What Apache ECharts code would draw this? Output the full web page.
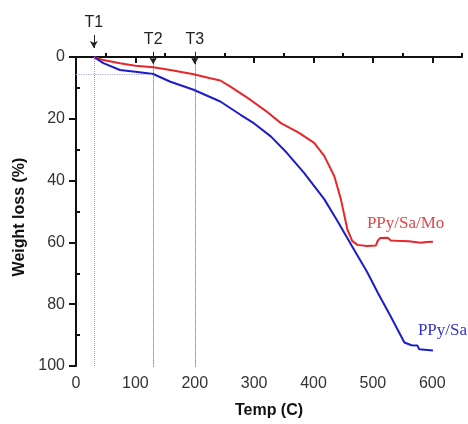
<!DOCTYPE html>
<html>
<head>
<meta charset="utf-8">
<script src="https://cdn.jsdelivr.net/npm/echarts@6/dist/echarts.min.js"></script>
<style>
  html, body { margin: 0; background: #fff; }
  #chart { width: 468px; height: 424px; }
</style>
</head>
<body>
<div id="chart"></div>
<script>
// ----- data -----
const tempSa   = [30, 46, 74, 100, 130, 159, 198, 243, 277, 300, 328, 355, 384, 418, 440, 468, 490, 508, 530, 553, 565, 575, 578, 581, 601];
const lossSa   = [0, 2.0, 4.2, 4.8, 5.5, 8.0, 10.6, 14.4, 18.7, 21.5, 25.7, 31, 37.5, 46, 53, 62.3, 69.5, 76.2, 84, 92.4, 93.3, 93.4, 94.6, 95, 95];
const tempSaMo = [30, 46, 74, 100, 130, 159, 198, 226, 243, 260, 294, 320, 345, 375, 401, 418, 435, 446, 457, 465, 474, 490, 505, 508, 512, 525, 530, 540, 560, 581, 590, 601];
const lossSaMo = [0, 1.0, 2.0, 2.8, 3.3, 4.2, 5.6, 6.9, 7.6, 9.6, 13.9, 17.5, 21.4, 24.5, 27.8, 32, 38.6, 46, 55.8, 59.5, 60.8, 61.2, 61, 59.5, 58.6, 58.5, 59.4, 59.5, 59.6, 60.1, 59.9, 59.8];

const markNames = ['T1', 'T2', 'T3'];
const markTemps = [30, 130, 200];

const xMajorTicks = [0, 100, 200, 300, 400, 500, 600];
const xMinorTicks = [50, 150, 250, 350, 450, 550, 650];
const yMajorTicks = [0, 20, 40, 60, 80, 100];
const yMinorTicks = [10, 30, 50, 70, 90];

const RED = '#e8262a';
const BLUE = '#1c1ccc';
const TEXT = '#333';

// the plot is 310px tall for 0..100; the overlay grid reaches the top of the page
const Y_TOP = -57 / 3.1;

function toPairs(xs, ys) {
  return xs.map((x, i) => [x, ys[i]]);
}

// vertical guide lines, arrows and their labels
function markerLines() {
  const out = [];
  markTemps.forEach((t, i) => {
    const first = i === 0;
    out.push([
      { coord: [t, first ? 0 : 1.5], lineStyle: { color: first ? '#98a0c0' : '#555', type: 'dotted', width: 1 } },
      { coord: [t, 100] }
    ]);
    out.push([
      {
        coord: [t, first ? -7.1 : -1.7],
        symbol: 'none',
        lineStyle: { color: '#222', type: 'solid', width: 1 },
        label: { show: true, position: 'start', formatter: markNames[i], distance: 4,
                 color: '#222', fontSize: 16, fontFamily: 'Liberation Sans' }
      },
      { coord: [t, first ? -2.9 : 2.3], symbol: 'arrow', symbolSize: [6, 7] }
    ]);
  });
  // horizontal dotted reference
  out.push([
    { coord: [0, 5.5], lineStyle: { color: '#a4a8e6', type: 'dotted', width: 1.2 } },
    { coord: [128, 5.5] }
  ]);
  return out;
}

const chart = echarts.init(document.getElementById('chart'), null, { renderer: 'canvas' });

chart.setOption({
  backgroundColor: '#fff',
  animation: false,
  grid: [
    { left: 76, right: 6, top: 57, bottom: 57 },
    { left: 76, right: 6, top: 0, bottom: 57 }
  ],
  xAxis: [
    {
      type: 'value', min: 0, max: 650, position: 'bottom',
      name: 'Temp (C)', nameLocation: 'middle', nameGap: 37,
      nameTextStyle: { fontFamily: 'Liberation Sans', fontWeight: 'bold', fontSize: 16, color: '#111' },
      axisLine: { show: true, lineStyle: { color: '#111', width: 2 } },
      axisTick: { show: true, inside: false, length: 6, customValues: xMajorTicks, lineStyle: { color: '#111', width: 2 } },
      axisLabel: { customValues: xMajorTicks, margin: 10, color: TEXT, fontSize: 16, fontFamily: 'Liberation Sans' },
      splitLine: { show: false }
    },
    {
      type: 'value', min: 0, max: 650, position: 'bottom',
      axisLine: { show: false },
      axisTick: { show: true, inside: true, length: 4, customValues: xMinorTicks, lineStyle: { color: '#111', width: 2 } },
      axisLabel: { show: false },
      splitLine: { show: false }
    },
    { type: 'value', gridIndex: 1, min: 0, max: 650, show: false }
  ],
  yAxis: [
    {
      type: 'value', min: 0, max: 100, inverse: true, position: 'left',
      name: 'Weight loss (%)', nameLocation: 'middle', nameGap: 41,
      nameTextStyle: { fontFamily: 'Liberation Sans', fontWeight: 'bold', fontSize: 16, color: '#111', padding: [0, 11, 0, 0] },
      axisLine: { show: true, lineStyle: { color: '#111', width: 2 } },
      axisTick: { show: true, inside: false, length: 7, customValues: yMajorTicks, lineStyle: { color: '#111', width: 2 } },
      axisLabel: { customValues: yMajorTicks, margin: 11, color: TEXT, fontSize: 16, fontFamily: 'Liberation Sans' },
      splitLine: { show: false }
    },
    {
      type: 'value', min: 0, max: 100, inverse: true, position: 'left',
      axisLine: { show: false },
      axisTick: { show: true, inside: true, length: 4, customValues: yMinorTicks, lineStyle: { color: '#111', width: 2 } },
      axisLabel: { show: false },
      splitLine: { show: false }
    },
    { type: 'value', gridIndex: 1, min: Y_TOP, max: 100, inverse: true, show: false }
  ],
  series: [
    {
      name: 'guides',
      type: 'line',
      xAxisIndex: 2,
      yAxisIndex: 2,
      data: [],
      clip: false,
      markLine: {
        silent: true,
        symbol: 'none',
        label: { show: false },
        emphasis: { disabled: true },
        data: markerLines()
      },
      z: 1
    },
    {
      name: 'PPy/Sa',
      type: 'line',
      data: toPairs(tempSa, lossSa),
      showSymbol: false,
      clip: false,
      lineStyle: { color: BLUE, width: 2 },
      itemStyle: { color: BLUE },
      endLabel: {
        show: true, formatter: '{a}', offset: [-23, -20],
        color: '#3434c4', fontFamily: 'Liberation Serif', fontSize: 17
      },
      z: 3
    },
    {
      name: 'PPy/Sa/Mo',
      type: 'line',
      data: toPairs(tempSaMo, lossSaMo),
      showSymbol: false,
      clip: false,
      lineStyle: { color: RED, width: 2 },
      itemStyle: { color: RED },
      endLabel: {
        show: true, formatter: '{a}', offset: [-74, -18],
        color: '#e04848', fontFamily: 'Liberation Serif', fontSize: 17
      },
      z: 2
    }
  ]
});
</script>
</body>
</html>
